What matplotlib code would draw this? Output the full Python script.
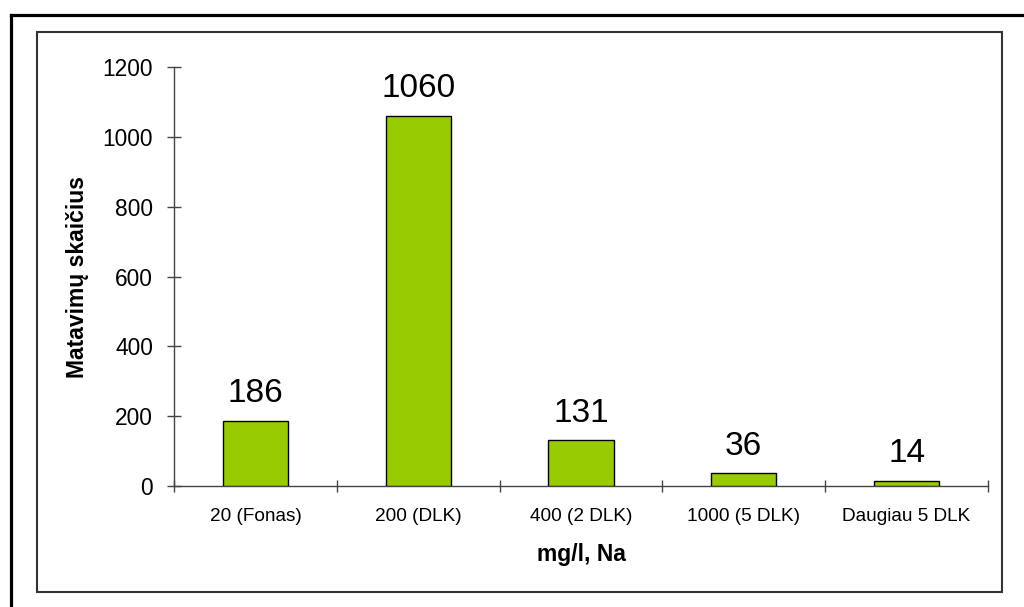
import matplotlib
matplotlib.use('Agg')
import matplotlib.pyplot as plt
from matplotlib.lines import Line2D
from matplotlib.patches import Rectangle
import numpy as np

categories = ['20 (Fonas)', '200 (DLK)', '400 (2 DLK)', '1000 (5 DLK)', 'Daugiau 5 DLK']
counts = [186, 1060, 131, 36, 14]
y_ticks = [0, 200, 400, 600, 800, 1000, 1200]

plt.rcParams['font.family'] = ['Liberation Sans', 'DejaVu Sans']

W, H = 1024, 607
fig = plt.figure(figsize=(W / 100, H / 100), dpi=100)
ax = fig.add_axes([174 / W, 1 - 486 / H, (988 - 174) / W, (486 - 67) / H])

x = np.arange(len(categories))
ax.bar(x, counts, width=0.4, color='#99CC00', edgecolor='black', linewidth=1.0, zorder=3)

# value labels above each bar
for xi, v in zip(x, counts):
    ax.annotate(str(v), xy=(xi, v), xytext=(0, 13.5), textcoords='offset points',
                ha='center', va='baseline', fontsize=24)

ax.set_xlim(-0.5, len(categories) - 0.5)
ax.set_ylim(0, 1200)
ax.set_yticks(y_ticks)

# category boundaries get the tick marks, labels sit in between
ax.set_xticks(np.arange(len(categories) + 1) - 0.5)
ax.set_xticklabels([])
ax.set_xticks(x, minor=True)
ax.set_xticklabels(categories, minor=True, fontsize=13.7)
ax.tick_params(axis='x', which='major', direction='inout', length=8.6, width=1, color='#444444')
ax.tick_params(axis='x', which='minor', length=0, pad=16)
ax.tick_params(axis='y', direction='inout', length=10, width=1, color='#444444',
               labelsize=16.4, pad=10)

for side in ['top', 'right']:
    ax.spines[side].set_visible(False)
for side in ['left', 'bottom']:
    ax.spines[side].set_color('#444444')
    ax.spines[side].set_linewidth(1.0)

ax.set_ylabel('Matavimų skaičius', fontsize=16.5, fontweight='bold', labelpad=10)
ax.set_xlabel('mg/l, Na', fontsize=16.5, fontweight='bold', labelpad=13)

# chart area frame
fig.add_artist(Rectangle((37 / W, 1 - 592 / H), (1002 - 37) / W, (592 - 32) / H,
                         transform=fig.transFigure, fill=False,
                         edgecolor='#333333', linewidth=1.5))
# outer thick frame (left and top edges)
fig.add_artist(Line2D([10.5 / W, 10.5 / W], [0, 1 - 14.5 / H], transform=fig.transFigure,
                      color='black', linewidth=2.3, solid_capstyle='projecting'))
fig.add_artist(Line2D([10.5 / W, 1], [1 - 14.5 / H, 1 - 14.5 / H], transform=fig.transFigure,
                      color='black', linewidth=2.3, solid_capstyle='projecting'))

fig.savefig('out.png', dpi=100)
